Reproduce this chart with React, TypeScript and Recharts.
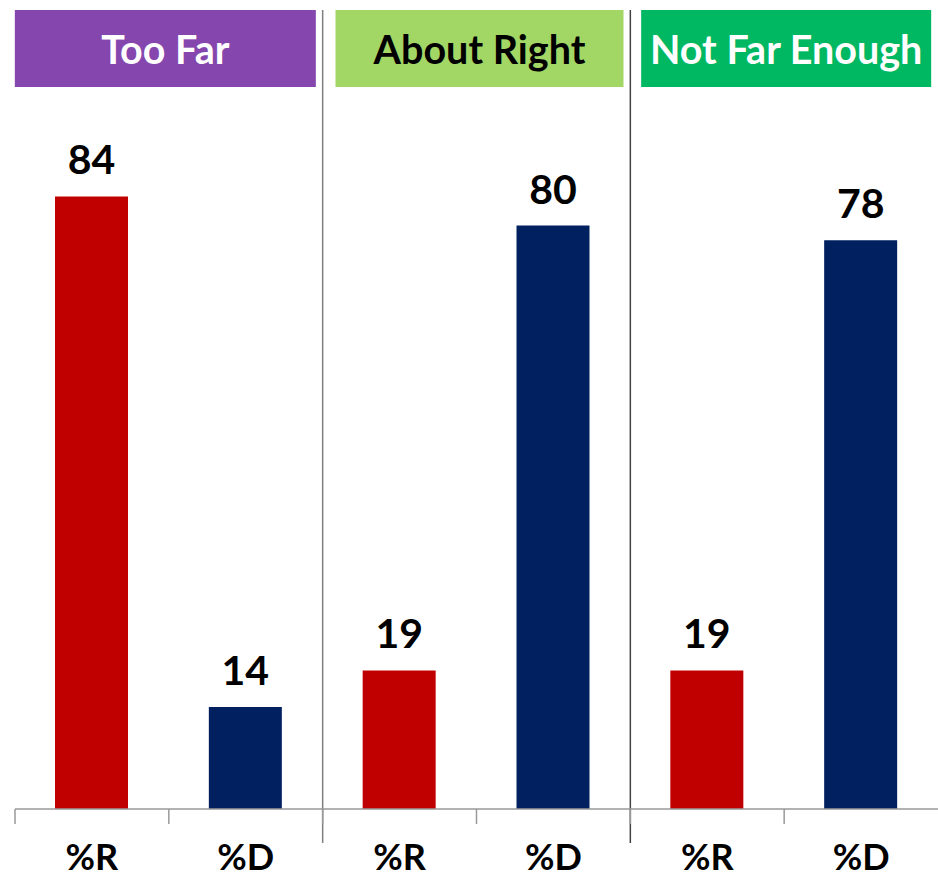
import { BarChart, Bar, Cell, XAxis, YAxis, LabelList, ReferenceLine } from "recharts";

const panels = ["Too Far", "About Right", "Not Far Enough"];
const categories = ["%R", "%D", "%R", "%D", "%R", "%D"];
const parties = ["R", "D", "R", "D", "R", "D"];
const values = [84, 14, 19, 80, 19, 78];

const panelFill: Record<string, string> = {
  "Too Far": "#8546AE",
  "About Right": "#A2D665",
  "Not Far Enough": "#00B862",
};
const panelText: Record<string, string> = {
  "Too Far": "#ffffff",
  "About Right": "#000000",
  "Not Far Enough": "#ffffff",
};
// left inset of each header box from its panel centre
const panelBoxLeft: Record<string, number> = {
  "Too Far": 154,
  "About Right": 141,
  "Not Far Enough": 143,
};
const partyColor: Record<string, string> = { R: "#C00000", D: "#00205F" };

const W = 938;
const H = 879;
const MARGIN = { top: 10, right: 0, left: 15, bottom: 0 };
const HEADER_H = 77;
const band = (W - MARGIN.left - MARGIN.right) / categories.length;
const FONT = "Lato, 'Open Sans', sans-serif";

const data = values.map((v, i) => {
  const panel = panels[Math.floor(i / 2)];
  return { key: `${panel} ${categories[i]}`, label: categories[i], panel, party: parties[i], value: v };
});

function BottomTick(props: any) {
  const { x, y, index } = props;
  return (
    <g>
      <line x1={x - band / 2} x2={x - band / 2} y1={y} y2={y + 15} stroke="#999" strokeWidth={1.5} />
      <text x={x} y={y + 47} textAnchor="middle" dominantBaseline="central" fontFamily={FONT} fontWeight={700} fontSize={36} fill="#000">
        {categories[index]}
      </text>
    </g>
  );
}

function HeaderTick(props: any) {
  const { x, y, payload } = props;
  const name = payload.value as string;
  const left = panelBoxLeft[name];
  return (
    <g>
      <rect x={x - left} y={y - HEADER_H} width={left + 147} height={HEADER_H} fill={panelFill[name]} />
      <text x={x - left / 2 + 147 / 2} y={y - HEADER_H / 2} textAnchor="middle" dominantBaseline="central" fontFamily={FONT} fontWeight={700} fontSize={39.5} fill={panelText[name]}>
        {name}
      </text>
    </g>
  );
}

function Separator(props: any) {
  const { x1, y1, x2, y2, stroke } = props;
  return <line x1={x1} x2={x2} y1={y1 - HEADER_H} y2={y2 + 34} stroke={stroke} strokeWidth={1.5} />;
}

export default function App() {
  return (
    <div style={{ position: "absolute", left: 0, top: 0, background: "#fff" }}>
      <BarChart width={W} height={H} data={data} margin={MARGIN} barCategoryGap={0}>
        <XAxis
          dataKey="key"
          height={70}
          axisLine={{ stroke: "#999", strokeWidth: 1.5 }}
          tickLine={false}
          tickSize={0}
          tickMargin={0}
          interval={0}
          tick={<BottomTick />}
        />
        <XAxis
          xAxisId="panel"
          dataKey="panel"
          orientation="top"
          allowDuplicatedCategory={false}
          height={HEADER_H}
          axisLine={false}
          tickLine={false}
          tickSize={0}
          tickMargin={0}
          interval={0}
          tick={<HeaderTick />}
        />
        <YAxis hide domain={[0, 99]} />
        <ReferenceLine xAxisId="panel" x="Too Far" position="end" stroke="#7f7f7f" shape={<Separator />} />
        <ReferenceLine xAxisId="panel" x="About Right" position="end" stroke="#404040" shape={<Separator />} />
        <Bar dataKey="value" barSize={73} isAnimationActive={false}>
          {data.map((d) => (
            <Cell key={d.key} fill={partyColor[d.party]} />
          ))}
          <LabelList dataKey="value" position="top" offset={22} fontFamily={FONT} fontWeight={700} fontSize={41} fill="#000" />
        </Bar>
      </BarChart>
    </div>
  );
}
